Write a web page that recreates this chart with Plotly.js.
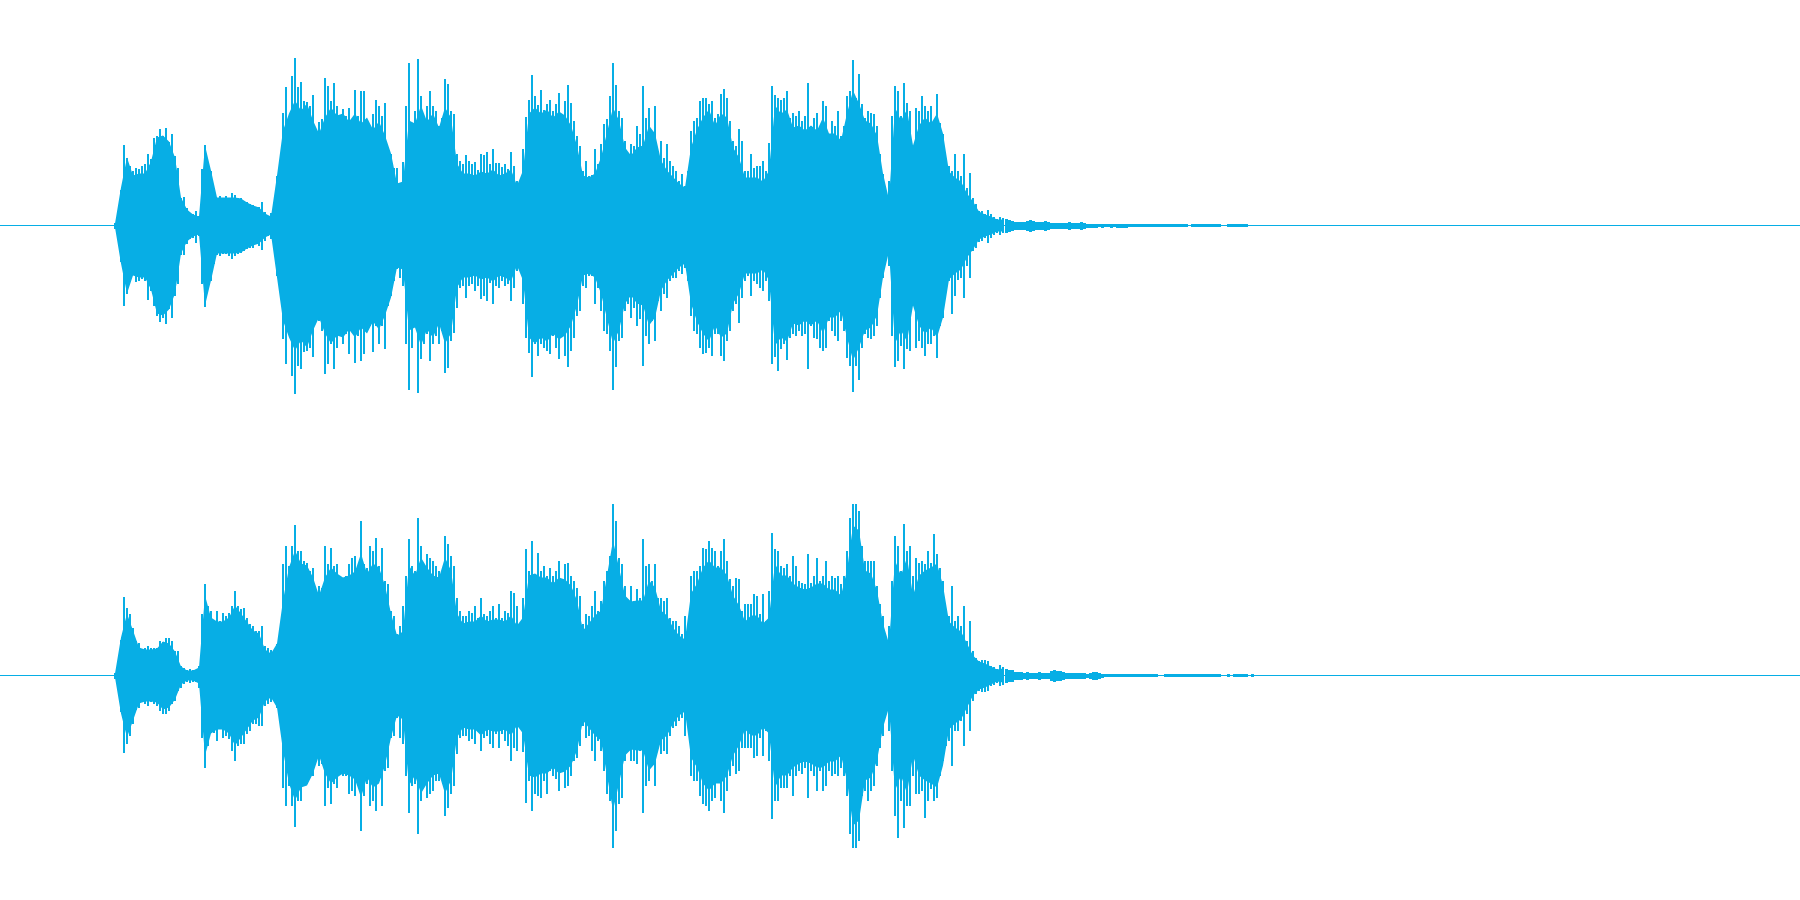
<!DOCTYPE html>
<html>
<head>
<meta charset="utf-8">
<script src="https://cdn.plot.ly/plotly-3.0.1.min.js"></script>
<style>html,body{margin:0;padding:0;background:#fff;overflow:hidden}#chart{width:1800px;height:900px}</style>
</head>
<body>
<div id="chart"></div>
<script>
// Waveform, two channels. Amplitudes are on a +/-225 scale.
// Peak values: one reading every 3 time units, starting at t=114.
const peakStart = 114, peakStep = 3;
const c1Up = [
3,11,36,81,68,60,55,58,57,60,
62,72,67,88,90,97,90,98,84,92,
70,58,28,29,18,13,12,15,10,57,
81,61,55,38,28,30,28,30,28,33,
31,28,28,25,24,22,21,18,19,24,
14,10,13,10,50,66,113,139,108,150,
168,139,144,125,124,120,131,85,104,107,
148,140,125,143,120,108,117,110,118,105,
136,110,135,135,106,100,112,126,120,110,
123,78,72,58,58,40,64,120,163,100,
115,167,130,108,120,135,120,115,100,108,
147,142,115,112,72,65,62,71,65,62,
64,56,72,71,74,62,77,63,63,59,
62,57,74,60,45,33,77,109,126,151,
130,121,136,116,122,126,115,122,133,110,
125,141,123,105,90,80,55,65,50,51,
77,62,82,102,107,130,163,141,115,108,
85,70,82,80,100,92,140,108,118,90,
120,75,85,68,82,65,60,55,45,52,
40,55,95,105,108,125,128,128,122,125,
108,112,132,137,128,105,85,80,97,85,
55,55,72,58,60,60,65,55,83,140,
131,128,126,128,135,108,113,110,115,105,
110,143,100,108,113,100,125,120,90,105,
100,115,90,100,130,135,166,128,152,122,
108,115,113,112,100,72,52,30,45,110,
140,135,110,143,123,115,70,118,115,130,
120,115,120,105,132,103,92,65,60,55,
72,55,50,72,38,53,28,22,15,15,
12,16,12,9,7,9,8];
const c1Dn = [
3,11,36,80,68,50,46,56,55,53,
55,74,65,80,90,96,92,98,83,92,
70,58,29,29,18,13,12,17,10,58,
81,60,55,38,29,30,28,28,30,33,
30,28,27,25,23,22,22,18,20,24,
15,10,13,10,50,66,113,138,105,150,
168,140,143,126,125,122,131,68,95,105,
148,138,118,143,122,104,118,108,128,105,
137,110,135,128,96,100,126,100,118,100,
123,80,70,55,43,52,60,118,164,122,
100,167,133,118,108,135,118,110,118,105,
147,142,115,107,82,62,60,72,60,58,
65,60,73,70,75,57,78,60,62,55,
60,58,75,62,45,32,78,112,127,151,
118,130,118,122,125,128,110,122,133,105,
130,141,125,112,90,85,60,62,50,50,
78,62,85,105,108,125,164,141,115,112,
85,78,92,82,100,93,140,110,118,95,
115,75,85,68,72,55,52,52,45,48,
42,55,90,105,108,122,128,127,122,130,
108,108,130,135,115,105,85,78,97,72,
55,50,70,55,58,62,65,55,75,138,
131,145,123,118,134,112,108,110,105,110,
108,143,100,112,113,122,125,122,95,105,
110,115,95,105,132,140,166,140,154,122,
108,112,113,110,100,72,52,28,40,110,
141,135,120,143,123,125,70,122,115,122,
130,118,118,110,132,100,92,65,55,88,
70,54,52,72,40,52,25,22,16,15,
12,17,12,9,7,9,7];
const c2Up = [
3,6,36,79,68,62,48,35,33,25,
28,30,28,28,28,35,34,38,38,35,
25,25,10,8,6,7,6,6,10,62,
92,70,65,50,65,55,63,60,63,70,
85,70,67,68,58,52,50,45,45,50,
30,28,26,15,32,40,112,130,110,130,
151,125,125,115,113,105,108,78,90,88,
130,112,128,110,112,98,95,100,112,118,
120,100,155,112,108,130,125,138,110,128,
95,92,65,60,42,50,70,100,137,110,
105,158,130,108,122,118,115,110,105,95,
140,132,120,110,78,65,60,60,65,63,
70,58,78,62,60,65,70,58,72,58,
65,63,85,83,70,33,78,127,105,135,
100,123,105,110,100,108,100,105,115,95,
112,113,100,95,88,80,52,62,60,70,
85,65,75,95,105,120,172,155,118,112,
90,75,90,75,87,78,137,110,112,95,
112,78,78,75,78,58,55,55,50,42,
60,40,100,105,105,110,128,127,135,128,
125,110,125,137,115,97,90,98,97,65,
72,72,72,82,80,62,82,55,85,143,
127,125,110,108,112,100,120,110,95,93,
92,122,93,100,118,95,100,115,95,100,
98,100,92,100,125,158,172,172,165,130,
115,115,115,115,90,72,60,38,50,95,
140,130,105,152,125,130,100,118,113,115,
112,125,113,142,122,108,95,65,60,90,
55,60,50,70,35,55,25,18,15,16,
16,15,10,9,7,11,9];
const c2Dn = [
3,5,36,77,68,60,48,34,32,25,
28,30,26,28,30,35,38,38,35,28,
25,15,12,8,6,7,6,6,12,62,
92,70,50,57,65,50,62,60,63,75,
85,70,68,68,58,55,48,48,50,50,
30,28,26,17,32,40,112,130,110,130,
151,125,125,103,108,100,100,75,90,88,
130,112,128,108,112,95,100,100,118,115,
120,105,155,120,108,130,125,135,105,130,
95,92,62,60,42,62,68,100,137,110,
108,158,125,108,122,118,115,105,105,95,
140,132,118,110,78,62,60,60,65,63,
68,55,75,62,60,68,72,58,72,58,
65,70,85,72,75,36,76,127,105,135,
118,120,122,105,118,95,100,103,115,95,
112,110,100,85,82,70,50,62,60,75,
85,65,75,95,118,125,172,155,128,122,
85,75,85,85,88,75,137,110,105,90,
110,70,78,75,78,60,52,50,45,42,
60,38,100,105,105,120,128,130,135,125,
122,105,125,137,115,100,90,98,95,72,
72,72,72,82,80,62,80,55,85,143,
125,125,112,112,112,100,120,100,95,98,
92,122,95,100,115,95,115,110,95,100,
98,100,92,100,120,158,172,172,165,120,
115,125,115,110,90,72,60,36,55,95,
140,162,125,152,130,130,100,118,118,115,
142,125,113,125,122,100,85,70,65,90,
55,55,45,70,38,55,25,18,15,16,
16,15,10,9,7,10,9];

// Sustained body of the waveform: one reading every 6 time units, from t=114.
const bodyStart = 114, bodyStep = 6;
const c1Body = [
2,38,68,50,52,52,64,88,90,84,
68,28,16,11,9,80,55,28,28,28,
28,27,23,20,18,12,9,50,95,112,
125,115,122,105,92,108,118,110,112,104,
112,102,108,96,104,90,72,42,44,105,
102,120,104,112,98,118,108,62,52,52,
50,54,52,56,50,52,56,40,55,112,
118,112,116,108,114,110,100,80,50,48,
52,68,92,118,105,78,70,78,80,100,
92,65,55,48,42,38,78,96,108,116,
100,112,108,78,68,48,48,48,44,55,
120,112,116,98,100,95,100,95,108,92,
92,85,112,135,122,105,102,90,52,26,
118,105,116,80,100,108,102,112,92,54,
48,44,32,24,14,11,9,6,6];
const c2Body = [
2,38,62,44,28,26,26,27,34,32,
24,9,5,5,8,80,58,54,54,58,
70,62,54,45,42,26,22,32,75,108,
125,112,110,98,80,98,108,102,98,100,
104,122,102,112,108,90,62,40,44,110,
100,118,108,100,98,118,105,62,52,54,
54,60,54,56,56,54,60,50,58,100,
102,98,98,92,98,96,90,75,45,52,
60,65,100,135,108,80,74,75,75,95,
88,65,60,48,40,36,82,92,108,115,
108,108,100,80,70,54,60,60,52,58,
112,100,100,92,88,86,88,92,92,86,
86,80,105,150,145,105,102,85,52,32,
115,100,118,80,100,105,108,112,90,54,
48,44,32,20,14,12,9,6,7];

// Decay tail: one reading every 3 time units, from t=1005.
const tailStart = 1005, tailStep = 3;
const c1Tail = [
7,6,5,4,4,4,4,5,6,5,
4,4,4,5,4,3,3,3,3,3,
3,4,3,3,3,4,3,2,2,2,
2,1.5,2,1.5,1.5,2,1.5,2,2,2,
2,1.5,1.5,1.5,1.5,1.5,1.5,1.5,1.5,1.5,
1.5,1.5,1.5,1.5,1.5,1.5,1.5,1.5,1.5,1.5,
1.5,0,1.5,1.5,1.5,1.5,1.5,1.5,1.5,1.5,
1.5,1.5,0,0,1.5,1.5,1.5,1.5,1.5,1.5,
1.5,0,0];
const c2Tail = [
7,6,6,4,4,4,3,4,3,3,
3,4,3,3,3,5,6,5,5,4,
3,3,3,3,3,3,3,2,3,4,
4,3,2,1.5,1.5,1.5,1.5,1.5,1.5,1.5,
1.5,1.5,1.5,1.5,1.5,1.5,1.5,1.5,1.5,1.5,
1.5,0,0,1.5,1.5,1.5,1.5,1.5,1.5,1.5,
1.5,1.5,1.5,1.5,1.5,1.5,1.5,1.5,1.5,1.5,
1.5,1.5,0,0,1.5,0,1.5,1.5,1.5,1.5,
1.5,0,1.5];

const duration = 1800;
const waveColor = '#07AEE5';

function times(arr, start, step) { return arr.map((_, i) => start + i * step + 1); }

function channel(up, dn, body, tail, yaxis) {
  const wave = (x, hi, lo, width) => ({
    type: 'bar', x: x, y: hi.map((v, i) => v + lo[i]), base: lo.map(v => -v),
    width: width, yaxis: yaxis, xaxis: 'x', hoverinfo: 'skip',
    marker: {color: waveColor, line: {width: 0}}
  });
  const tb = times(body, bodyStart, bodyStep);
  return [
    {type: 'scatter', mode: 'lines', fill: 'toself', fillcolor: waveColor,
     x: tb.concat(tb.slice().reverse()),
     y: body.concat(body.map(v => -v).reverse()),
     yaxis: yaxis, xaxis: 'x', hoverinfo: 'skip', line: {width: 0, color: waveColor}},
    wave(times(up, peakStart, peakStep), up, dn, 2),
    wave(times(tail, tailStart, tailStep), tail, tail, tailStep),
    {type: 'scatter', mode: 'lines', x: [0, duration], y: [0, 0], yaxis: yaxis, xaxis: 'x',
     hoverinfo: 'skip', line: {color: waveColor, width: 1}}
  ];
}

const hidden = {visible: false, showgrid: false, zeroline: false, fixedrange: true};
const layout = {
  width: 1800, height: 900,
  margin: {l: 0, r: 0, t: 0, b: 0, pad: 0},
  paper_bgcolor: '#ffffff', plot_bgcolor: '#ffffff',
  showlegend: false, barmode: 'overlay', bargap: 0,
  xaxis: Object.assign({range: [0, duration], domain: [0, 1]}, hidden),
  yaxis: Object.assign({range: [-224.5, 225.5], domain: [0.5, 1]}, hidden),
  yaxis2: Object.assign({range: [-224.5, 225.5], domain: [0, 0.5]}, hidden)
};

Plotly.newPlot('chart',
  channel(c1Up, c1Dn, c1Body, c1Tail, 'y').concat(channel(c2Up, c2Dn, c2Body, c2Tail, 'y2')),
  layout, {displayModeBar: false, staticPlot: true});
</script>
</body>
</html>
